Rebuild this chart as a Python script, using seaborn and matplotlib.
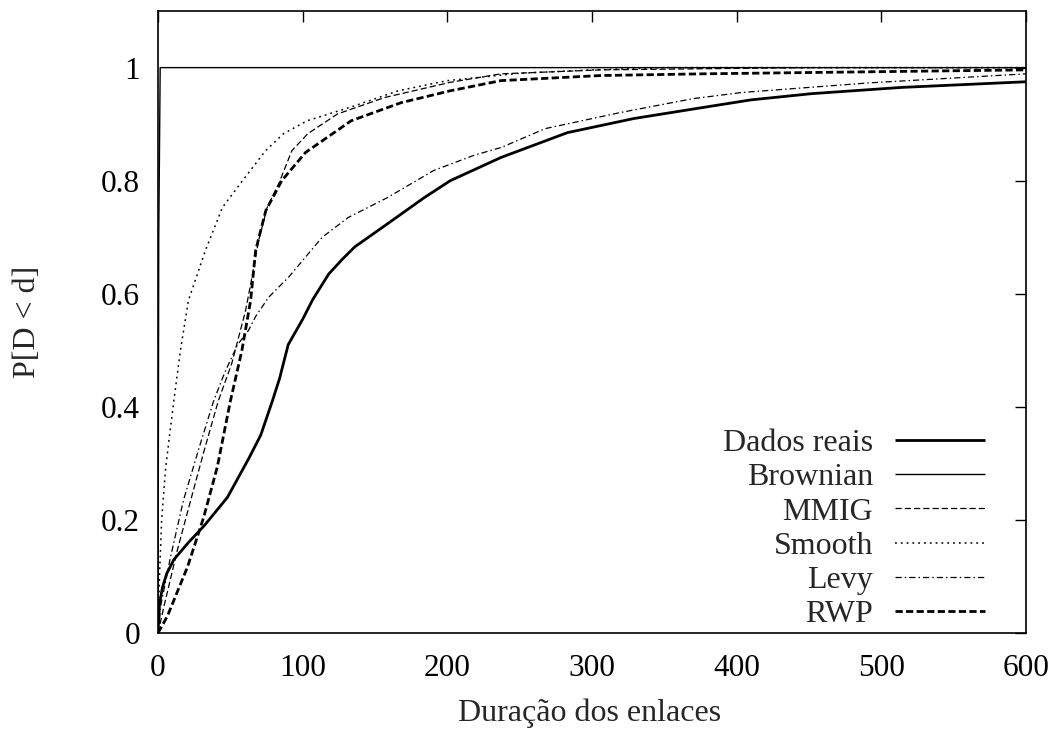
import numpy as np
import pandas as pd
import matplotlib
matplotlib.use("Agg")
import matplotlib.pyplot as plt
import seaborn as sns

# Empirical CDFs of link duration for each mobility model
dados_x = [0, 1, 3, 6, 11, 21, 32, 48, 63, 71, 79, 84, 90, 100, 107, 118, 127, 136,
           151, 167, 184, 202, 237, 283, 329, 373, 410, 452, 514, 600]
dados_y = [0, 0.05, 0.08, 0.105, 0.13, 0.16, 0.19, 0.24, 0.31, 0.35, 0.41, 0.45, 0.51,
           0.555, 0.59, 0.635, 0.66, 0.683, 0.71, 0.739, 0.77, 0.80, 0.841, 0.885, 0.91,
           0.928, 0.943, 0.954, 0.965, 0.975]

brownian_x = [0, 0.5, 1.5, 600]
brownian_y = [0, 0.7, 1.0, 1.0]

mmig_x = [0, 4, 13.4, 22.6, 31.6, 41.6, 51, 60.5, 65, 69.5, 75.5, 83.5, 92.5, 103.5,
          124, 156.5, 202, 237, 306, 376, 450, 600]
mmig_y = [0, 0.046, 0.147, 0.235, 0.32, 0.41, 0.477, 0.57, 0.63, 0.694, 0.753, 0.795,
          0.853, 0.883, 0.918, 0.947, 0.974, 0.989, 0.996, 0.998, 1.0, 1.0]

smooth_x = [0, 1, 2.5, 5.2, 8, 10.9, 15.5, 21, 32.8, 44.6, 58.4, 74.3, 86.7, 103, 133,
            166, 200, 250, 300, 350, 600]
smooth_y = [0, 0.1, 0.2, 0.29, 0.35, 0.41, 0.5, 0.588, 0.677, 0.753, 0.8, 0.853, 0.883,
            0.906, 0.93, 0.959, 0.977, 0.99, 0.996, 1.0, 1.0]

levy_x = [0, 2, 8.6, 17.6, 29.4, 38.4, 46, 55, 62.5, 67.5, 76.5, 90.5, 100, 113.5,
          131.5, 158.5, 190.5, 218.5, 237.5, 267.5, 318.5, 369.5, 403.5, 491.5, 600]
levy_y = [0, 0.05, 0.134, 0.235, 0.336, 0.41, 0.46, 0.51, 0.535, 0.56, 0.594, 0.63,
          0.659, 0.70, 0.735, 0.77, 0.818, 0.845, 0.859, 0.892, 0.92, 0.945, 0.956,
          0.973, 0.989]

rwp_x = [0, 6.5, 20.4, 31.6, 41, 50, 58, 64, 67.5, 74.5, 85.5, 102, 133.5, 168, 202,
         237, 306, 376, 600]
rwp_y = [0, 0.03, 0.117, 0.205, 0.294, 0.41, 0.5, 0.588, 0.677, 0.747, 0.80, 0.85,
         0.906, 0.938, 0.959, 0.977, 0.986, 0.989, 0.996]

x_ticks = [0, 100, 200, 300, 400, 500, 600]
y_ticks = [0, 0.2, 0.4, 0.6, 0.8, 1.0]
y_tick_labels = ["0", "0.2", "0.4", "0.6", "0.8", "1"]

series = [
    ("Dados reais", dados_x, dados_y, dict(lw=2.0, dashes=None)),
    ("Brownian", brownian_x, brownian_y, dict(lw=1.0, dashes=None)),
    ("MMIG", mmig_x, mmig_y, dict(lw=0.9, dashes=(5, 2.4))),
    ("Smooth", smooth_x, smooth_y, dict(lw=1.1, dashes=(1.2, 2.6))),
    ("Levy", levy_x, levy_y, dict(lw=0.9, dashes=(5, 2.4, 1.2, 2.4))),
    ("RWP", rwp_x, rwp_y, dict(lw=2.0, dashes=(2.6, 1.2))),
]

sns.set_theme(style="white")
plt.rcParams["font.family"] = ["Liberation Serif", "DejaVu Serif"]

fig = plt.figure(figsize=(10.57, 7.34), dpi=100)
ax = fig.add_axes([0.1495, 0.1376, 0.8212, 0.8473])

for name, xs, ys, st in series:
    df = pd.DataFrame({"x": xs, "y": ys})
    sns.lineplot(data=df, x="x", y="y", ax=ax, color="black", sort=False,
                 estimator=None, linewidth=st["lw"], label=name)
    line = ax.get_lines()[-1]
    if st["dashes"] is not None:
        line.set_dashes(st["dashes"])
    line.set_solid_capstyle("butt")
    line.set_dash_capstyle("butt")

ax.set_xlim(0, 600)
ax.set_ylim(0, 1.1)
ax.set_xticks(x_ticks)
ax.set_xticklabels([str(t) for t in x_ticks])
ax.set_yticks(y_ticks)
ax.set_yticklabels(y_tick_labels)
ax.tick_params(direction="in", length=8, width=1.0, top=True, right=True,
               labelsize=22.5, colors="black")
ax.tick_params(axis="x", pad=15)
ax.tick_params(axis="y", pad=13)
for sp in ax.spines.values():
    sp.set_visible(True)
    sp.set_color("black")
    sp.set_linewidth(1.2)

ax.set_xlabel("Duração dos enlaces", fontsize=23)
ax.set_ylabel("P[D < d]", fontsize=23)
ax.xaxis.set_label_coords(0.497, -0.105)
ax.yaxis.set_label_coords(-0.134, 0.5)

leg = ax.legend(loc="lower right", bbox_to_anchor=(985 / 1057, 1 - 629 / 734),
                bbox_transform=fig.transFigure, frameon=False, markerfirst=False,
                fontsize=23, handlelength=2.82, handletextpad=0.69,
                labelspacing=0.15, borderpad=0, borderaxespad=0)

fig.savefig("out.png", dpi=100, facecolor="white")
